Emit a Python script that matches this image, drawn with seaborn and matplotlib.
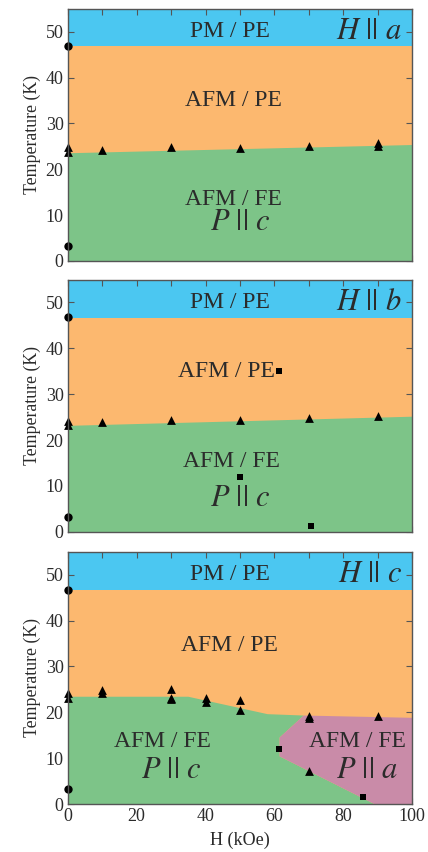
import numpy as np
import pandas as pd
import matplotlib
matplotlib.use("Agg")
import matplotlib.pyplot as plt
from matplotlib.ticker import MultipleLocator
import seaborn as sns

sns.set_theme(style="white")
plt.rcParams['font.family'] = ['Liberation Serif', 'DejaVu Serif']
plt.rcParams['mathtext.fontset'] = 'stix'

# ---------------- data ----------------
panel_labels = ["a", "b", "c"]
T_pm = [46.8, 46.6, 46.6]          # PM/PE -> AFM/PE boundary

# FE boundary (panels a, b): straight line H -> T
fe_line_H = [0, 100]
fe_line_T_a = [23.6, 25.4]
fe_line_T_b = [23.2, 25.2]

# panel c boundaries
green_c_H = [0, 0, 35, 58, 68.5, 61.5, 61.5, 89]
green_c_T = [0, 23.4, 23.4, 19.6, 19.3, 14.5, 10.4, 0]
pink_c_H = [68.5, 100, 100, 89, 61.5, 61.5]
pink_c_T = [19.3, 18.8, 0, 0, 10.4, 14.5]

# circles (H = 0)
circ_H_a = [0, 0]; circ_T_a = [46.9, 3.3]
circ_H_b = [0, 0]; circ_T_b = [46.9, 3.2]
circ_H_c = [0, 0]; circ_T_c = [46.7, 3.3]

# triangles
tri_H_a = [0, 0, 10, 30, 50, 70, 90, 90]
tri_T_a = [24.9, 23.8, 24.3, 24.8, 24.7, 25.0, 25.8, 25.0]
tri_H_b = [0, 0, 10, 30, 50, 70, 90]
tri_T_b = [24.2, 23.3, 24.0, 24.4, 24.3, 24.8, 25.2]
tri_H_c = [0, 0, 10, 10, 30, 30, 30, 40, 40, 50, 50, 70, 70, 70, 90]
tri_T_c = [24.2, 23.2, 24.8, 24.3, 25.1, 23.1, 22.8, 23.1, 22.3, 22.7, 20.6, 19.2, 18.8, 7.2, 19.2]

# squares
sq_H_b = [61.4, 50, 70.6]; sq_T_b = [35.0, 11.9, 1.3]
sq_H_c = [61.4, 85.8];     sq_T_c = [12.1, 1.6]

# region labels: (text, H, T)
labels_a = [("PM / PE", 47, 50), ("AFM / PE", 48, 35.1), ("AFM / FE", 48, 13.5), (r"$P\ ||\ c$", 50, 8.3)]
labels_b = [("PM / PE", 47, 50), ("AFM / PE", 46, 35.0), ("AFM / FE", 47.6, 15.3), (r"$P\ ||\ c$", 50, 7.3)]
labels_c = [("PM / PE", 47, 50), ("AFM / PE", 47, 34.6), ("AFM / FE", 27.4, 13.6), (r"$P\ ||\ c$", 30, 7.4),
            ("AFM / FE", 84, 13.6), (r"$P\ ||\ a$", 86.8, 7.4)]

# ---------------- style ----------------
C_BLUE = "#4BC7F1"
C_ORANGE = "#FCB86F"
C_GREEN = "#7DC488"
C_PINK = "#C98BA8"
TXT = "#2b2b2b"
SPINE = "#555555"

fig = plt.figure(figsize=(4.28, 8.52), dpi=100)
left, width, height = 0.1582, 0.805, 0.296
bottoms = [0.6937, 0.3759, 0.0563]
axes = [fig.add_axes([left, b, width, height]) for b in bottoms]


def draw_markers(ax, cH, cT, tH, tT, sH=None, sT=None):
    sns.scatterplot(x=cH, y=cT, ax=ax, marker="o", s=36, color="black", edgecolor="black",
                    linewidth=0, clip_on=False, zorder=5)
    sns.scatterplot(x=tH, y=tT, ax=ax, marker="^", s=40, color="black", edgecolor="black",
                    linewidth=0, clip_on=False, zorder=5)
    if sH is not None:
        sns.scatterplot(x=sH, y=sT, ax=ax, marker="s", s=24, color="black", edgecolor="black",
                        linewidth=0, clip_on=False, zorder=5)


for i, ax in enumerate(axes):
    ax.set_xlim(0, 100)
    ax.set_ylim(0, 55)
    # background regions
    ax.fill_between([0, 100], 0, T_pm[i], color=C_ORANGE, lw=0, zorder=0)
    ax.fill_between([0, 100], T_pm[i], 55, color=C_BLUE, lw=0, zorder=0)

axes[0].fill_between(fe_line_H, 0, fe_line_T_a, color=C_GREEN, lw=0, zorder=1)
axes[1].fill_between(fe_line_H, 0, fe_line_T_b, color=C_GREEN, lw=0, zorder=1)
axes[2].fill(green_c_H, green_c_T, color=C_GREEN, lw=0, zorder=1)
axes[2].fill(pink_c_H, pink_c_T, color=C_PINK, lw=0, zorder=1)

draw_markers(axes[0], circ_H_a, circ_T_a, tri_H_a, tri_T_a)
draw_markers(axes[1], circ_H_b, circ_T_b, tri_H_b, tri_T_b, sq_H_b, sq_T_b)
draw_markers(axes[2], circ_H_c, circ_T_c, tri_H_c, tri_T_c, sq_H_c, sq_T_c)

for ax, labs, pl in zip(axes, [labels_a, labels_b, labels_c], panel_labels):
    for txt, h, t in labs:
        if txt.startswith("$"):
            ax.text(h, t, txt, ha="center", va="center", fontsize=22, color=TXT, zorder=6)
        else:
            ax.text(h, t, txt, ha="center", va="center", fontsize=17, color=TXT, zorder=6)
    ax.text(97, 50, r"$H\ ||\ %s$" % pl, ha="right", va="center", fontsize=22, color=TXT, zorder=6)

    ax.xaxis.set_major_locator(MultipleLocator(20))
    ax.xaxis.set_minor_locator(MultipleLocator(10))
    ax.yaxis.set_major_locator(MultipleLocator(10))
    ax.tick_params(axis="both", which="both", direction="in", top=True, right=True,
                   bottom=True, left=True, length=4.5, width=0.8, color=SPINE,
                   labelsize=13, labelcolor=TXT, pad=3)
    for sp in ax.spines.values():
        sp.set_color(SPINE)
        sp.set_linewidth(1.0)
        sp.set_zorder(7)
    ax.set_ylabel("Temperature (K)", fontsize=12.8, color=TXT, labelpad=3)
    ax.set_xlabel("")

axes[0].tick_params(labelbottom=False)
axes[1].tick_params(labelbottom=False)
axes[2].set_xlabel("H (kOe)", fontsize=13, color=TXT, labelpad=5)

fig.savefig("out.png", dpi=100)
